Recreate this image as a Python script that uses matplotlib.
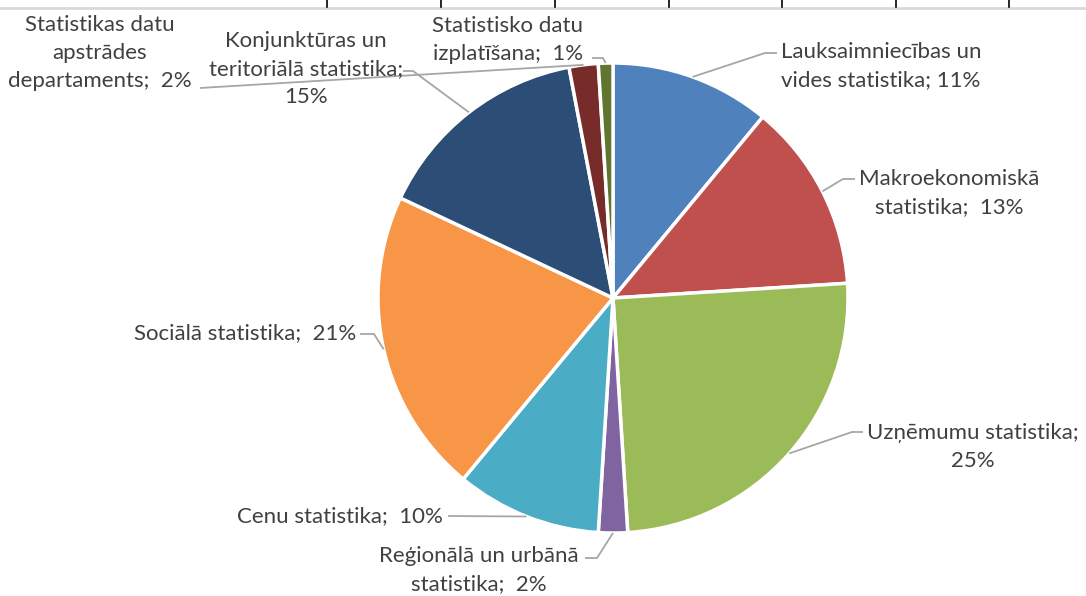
import numpy as np
import matplotlib
matplotlib.use("Agg")
from matplotlib import pyplot as plt

# slice data, clockwise from 12 o'clock
categories = [
    "Lauksaimniecības un\nvides statistika; 11%",
    "Makroekonomiskā\nstatistika;  13%",
    "Uzņēmumu statistika;\n25%",
    "Reģionālā un urbānā\nstatistika;  2%",
    "Cenu statistika;  10%",
    "Sociālā statistika;  21%",
    "Konjunktūras un\nteritoriālā statistika;\n15%",
    "Statistikas datu\napstrādes\ndepartaments;  2%",
    "Statistisko datu\nizplatīšana;  1%",
]
values = [11, 13, 25, 2, 10, 21, 15, 2, 1]
colors = ["#4F81BD", "#C0504D", "#9BBB59", "#8064A2", "#4BACC6",
          "#F79646", "#2C4D75", "#772C2A", "#5F7530"]

# label layout in pixels: (elbow, line end, text position, alignment)
label_layout = [
    ((765, 53), (777, 53), (881, 66), "center"),
    ((843, 179), (855, 179), (949, 193), "center"),
    ((852, 432), (863, 432), (973, 447), "center"),
    ((597, 558), (585, 558), (479, 570), "center"),
    (None, (448, 516), (443, 516), "right"),
    ((374, 334), (360, 334), (356, 333), "right"),
    ((413, 71), (403, 71), (306, 69), "center"),
    (None, (200, 88), (100, 53), "center"),
    ((603, 58), (592, 58), (508, 40), "center"),
]

W, H = 1086, 596
fig = plt.figure(figsize=(W / 100, H / 100), dpi=100)
ax = fig.add_axes([0, 0, 1, 1])

cx, cy, r = 613, 298, 235
wedges, _ = ax.pie(values, colors=colors, startangle=-90, counterclock=True,
                   center=(cx, cy), radius=r,
                   wedgeprops=dict(edgecolor="white", linewidth=2.5))
ax.set_xlim(0, W)
ax.set_ylim(H, 0)
ax.set_aspect("equal")
ax.axis("off")

txt_color = "#404040"
line_color = "#A6A6A6"
for w, lab, (elbow, end, tpos, ha) in zip(wedges, categories, label_layout):
    mid = np.deg2rad((w.theta1 + w.theta2) / 2)
    start = (cx + r * np.cos(mid), cy + r * np.sin(mid))
    pts = [start] + ([elbow] if elbow else []) + [end]
    xs, ys = zip(*pts)
    ax.plot(xs, ys, color=line_color, lw=1.3, solid_capstyle="butt")
    ax.text(tpos[0], tpos[1], lab, ha=ha, va="center", multialignment="center",
            fontsize=16, family="Lato", color=txt_color, linespacing=1.52)

# bits of the spreadsheet grid peeking in at the top edge
ax.axhline(8, color="#D9D9D9", lw=2)
for x in [327, 441, 555, 669, 782, 896, 1009]:
    ax.plot([x, x], [0, 7], color="black", lw=1.2)

fig.savefig("out.png", dpi=100)
